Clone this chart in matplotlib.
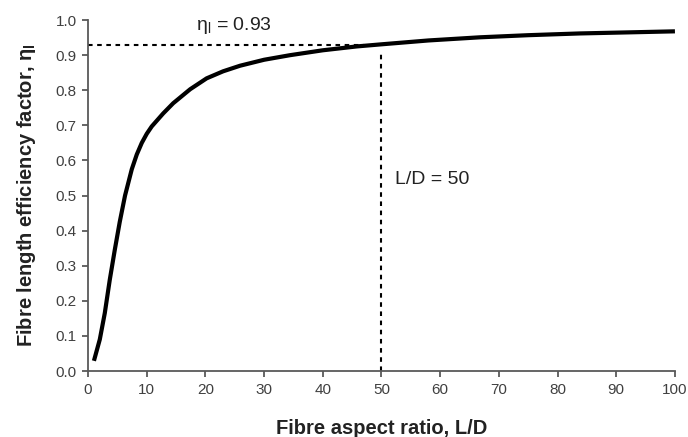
import matplotlib
matplotlib.use("Agg")
import matplotlib.pyplot as plt

plt.rcParams['font.family'] = ['Liberation Sans', 'DejaVu Sans']

aspect_ratio = [1.0, 2.0, 2.85, 3.7, 4.55, 5.4, 6.3, 7.45, 8.3, 9.15, 10.0, 10.85, 12.8,
                14.5, 17.4, 20.2, 23.0, 25.9, 30.0, 34.4, 40.0, 45.8, 50.0, 58.0,
                66.8, 75.0, 83.8, 92.0, 100.0]
efficiency = [0.029, 0.09, 0.165, 0.26, 0.345, 0.425, 0.5, 0.575, 0.617, 0.65, 0.676,
              0.697, 0.734, 0.763, 0.803, 0.834, 0.854, 0.87, 0.887, 0.9, 0.914,
              0.925, 0.931, 0.942, 0.951, 0.957, 0.962, 0.965, 0.968]

ref_eta = 0.93
ref_ld = 50

xticks = [0, 10, 20, 30, 40, 50, 60, 70, 80, 90, 100]
yticks = [0.0, 0.1, 0.2, 0.3, 0.4, 0.5, 0.6, 0.7, 0.8, 0.9, 1.0]

fig = plt.figure(figsize=(6.88, 4.37), dpi=100)
ax = fig.add_axes([0.128, 0.151, 0.853, 0.803])

ax.plot(aspect_ratio, efficiency, color='black', lw=3.0, solid_capstyle='butt',
        solid_joinstyle='round', zorder=3)

ax.plot([0, 47], [ref_eta, ref_eta], color='black', lw=1.5, linestyle=(0, (2.2, 2.2)), zorder=2)
ax.plot([ref_ld, ref_ld], [0, 0.905], color='black', lw=1.5, linestyle=(0, (2.2, 2.2)), zorder=2)

ax.text(18.4, 0.985, 'η$_\\mathregular{l}$ = 0.93', fontsize=14, color='#222222',
        ha='left', va='center')
ax.text(52.3, 0.547, 'L/D = 50', fontsize=14, color='#222222', ha='left', va='center')

ax.set_xlim(0, 100)
ax.set_ylim(0, 1.0)
ax.set_xticks(xticks)
ax.set_yticks(yticks)
ax.set_xticklabels([str(v) for v in xticks])
ax.set_yticklabels([f'{v:.1f}' for v in yticks])

for s in ['top', 'right']:
    ax.spines[s].set_visible(False)
for s in ['left', 'bottom']:
    ax.spines[s].set_color('#595959')
    ax.spines[s].set_linewidth(1.3)

ax.tick_params(axis='both', direction='out', length=4.3, width=1.3, color='#595959',
               labelcolor='#404040', labelsize=11, pad=4)

ax.set_xlabel('Fibre aspect ratio, L/D', fontsize=14.5, fontweight='bold', color='#222222',
              va='baseline')
ax.xaxis.set_label_coords(0.5, -0.179)
ax.set_ylabel('Fibre length efficiency factor, η$_\\mathregular{l}$', fontsize=14.5,
              fontweight='bold', color='#222222')
ax.yaxis.set_label_coords(-0.085, 0.5)

fig.savefig('out.png', dpi=100)
